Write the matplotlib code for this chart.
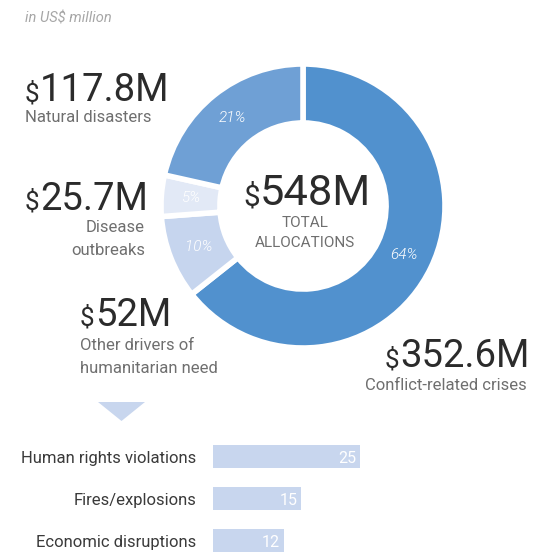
import matplotlib
matplotlib.use("Agg")
import matplotlib.pyplot as plt
from matplotlib.patches import Polygon
import numpy as np

plt.rcParams['font.family'] = ['Roboto', 'DejaVu Sans']

# ---- data ----
slice_names = ["Conflict-related crises", "Other drivers of\nhumanitarian need", "Disease\noutbreaks", "Natural disasters"]
slice_values = [352.6, 52.0, 25.7, 117.8]
slice_pcts = ["64%", "10%", "5%", "21%"]
slice_amounts = ["352.6M", "52M", "25.7M", "117.8M"]
slice_colors = ["#5191CE", "#C6D5EE", "#E2E9F6", "#6FA0D5"]
total_label = "548M"

bar_categories = ["Human rights violations", "Fires/explosions", "Economic disruptions"]
bar_values = [25, 15, 12]

W, H = 557, 553
fig = plt.figure(figsize=(W / 100, H / 100), dpi=100)

def fx(px):
    return px / W

def fy(py):
    return 1 - py / H

ov = fig.add_axes([0, 0, 1, 1])
ov.set_xlim(0, W)
ov.set_ylim(H, 0)
ov.axis("off")

# ---- donut ----
cx, cy, R = 303, 206, 142
pax = fig.add_axes([fx(cx - R), fy(cy + R), 2 * R / W, 2 * R / H])
wedges, _ = pax.pie(slice_values, colors=slice_colors, startangle=90, counterclock=False,
                    radius=1.0, wedgeprops=dict(width=0.415, edgecolor="white", linewidth=4))
pax.set_xlim(-1, 1)
pax.set_ylim(-1, 1)
pax.set_aspect("auto")
pax.axis("off")

ang = 90.0
for v, p in zip(slice_values, slice_pcts):
    span = v / sum(slice_values) * 360
    mid = np.deg2rad(ang - span / 2)
    r = 0.79
    pax.text(r * np.cos(mid), r * np.sin(mid), p, ha="center", va="center",
             color="white", fontsize=11, style="italic", fontweight=300)
    ang -= span

dark = "#2b2b2b"
grey = "#6f6f6f"

ov.text(25, 18, "in US$ million", fontsize=10.5, style="italic", color="#a6a6a6", va="center", ha="left")

def big(x, y, amt, size=27.5):
    t = ov.text(x, y, "$", fontsize=size * 0.68, color=dark, va="baseline", ha="left")
    fig.canvas.draw()
    w = t.get_window_extent().width
    ov.text(x + w + 0.5, y, amt, fontsize=size, color=dark, va="baseline", ha="left")

big(25, 101, slice_amounts[3])
ov.text(25, 118, "Natural disasters", fontsize=12, color=grey, va="center", ha="left")

big(25, 210, slice_amounts[2])
ov.text(145, 239, slice_names[2], fontsize=12, color=grey, va="center", ha="right", linespacing=1.6)

big(80, 326, slice_amounts[1])
ov.text(80, 357, slice_names[1], fontsize=12, color=grey, va="center", ha="left", linespacing=1.6)

big(385, 367, slice_amounts[0])
ov.text(527, 385, slice_names[0], fontsize=12, color=grey, va="center", ha="right")

big(243, 205, total_label, size=31.3)
ov.text(305, 233, "TOTAL\nALLOCATIONS", fontsize=11, color=grey, va="center", ha="center", linespacing=1.5)

ov.add_patch(Polygon([[98, 402], [145, 402], [121.5, 421]], closed=True, color="#C8D6EE", lw=0))

# ---- bars ----
scale = 147 / 25.0
bx0 = 213
bax = fig.add_axes([fx(bx0), 0, (W - bx0) / W, (H - 435) / H])
bax.set_xlim(0, (W - bx0) / scale)
bax.set_ylim((553 - 456.5) / 42, (435 - 456.5) / 42)
ypos = list(range(len(bar_categories)))
bax.barh(ypos, bar_values, height=23 / 42, color="#C8D6EE")
for y, v in zip(ypos, bar_values):
    bax.text(v - 0.65, y + 0.05, str(v), ha="right", va="center", color="white", fontsize=11.5)
bax.set_yticks(ypos)
bax.set_yticklabels(bar_categories, fontsize=12, color="#3a3a3a")
bax.tick_params(axis="y", length=0, pad=12)
bax.set_xticks([])
for s in bax.spines.values():
    s.set_visible(False)
bax.patch.set_alpha(0)

fig.savefig("out.png", dpi=100)
